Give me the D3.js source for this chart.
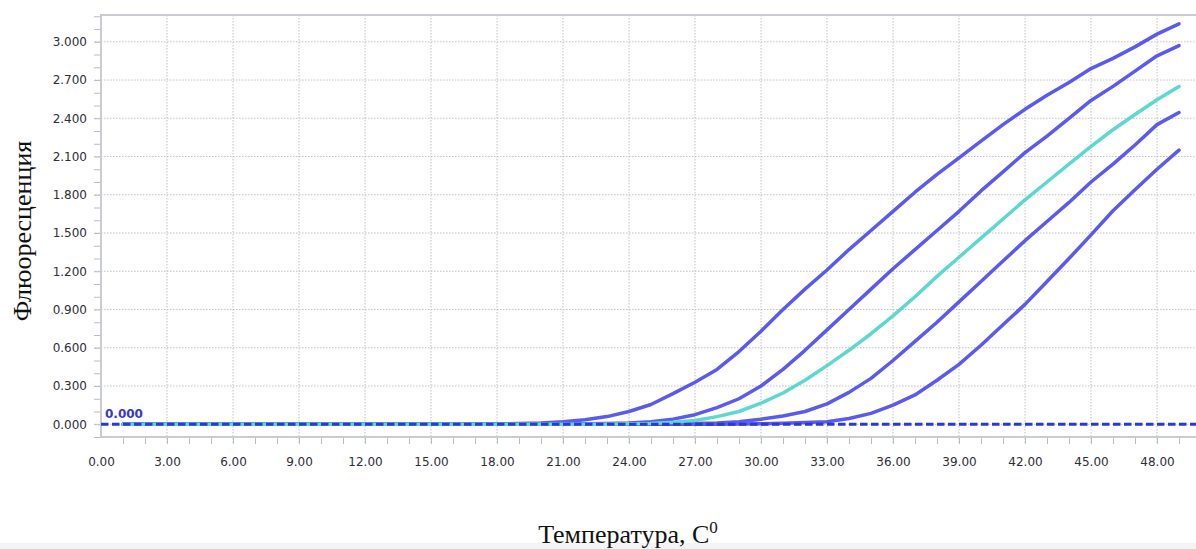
<!DOCTYPE html>
<html>
<head>
<meta charset="utf-8">
<script src="https://cdnjs.cloudflare.com/ajax/libs/d3/7.8.5/d3.min.js"></script>
<style>
    html, body { margin: 0; padding: 0; background: #fff; }
    svg { display: block; }
</style>
</head>
<body>
<div id="chart"></div>
<script>
// cycles / temperature points
var cycles = [1,2,3,4,5,6,7,8,9,10,11,12,13,14,15,16,17,18,19,20,21,22,23,24,25,
    26,27,28,29,30,31,32,33,34,35,36,37,38,39,40,41,42,43,44,45,46,47,48,49];

var curveA = [0,0,0,0,0,0,0,0,0,0,0,0,0,0,0,0,0,0.002,0.005,0.01,0.02,0.035,0.06,0.10,0.155,
    0.24,0.33,0.43,0.57,0.73,0.90,1.06,1.21,1.37,1.52,1.67,1.82,1.96,2.09,2.22,2.35,2.47,2.58,2.68,2.79,2.87,2.96,3.06,3.14];
var curveB = [0,0,0,0,0,0,0,0,0,0,0,0,0,0,0,0,0,0,0,0,0,0.003,0.006,0.01,0.02,
    0.04,0.075,0.13,0.20,0.30,0.43,0.58,0.74,0.90,1.06,1.22,1.37,1.52,1.67,1.83,1.98,2.13,2.26,2.40,2.54,2.65,2.77,2.89,2.97];
var curveC = [0,0,0,0,0,0,0,0,0,0,0,0,0,0,0,0,0,0,0,0,0,0,0,0.003,0.006,
    0.015,0.03,0.06,0.10,0.165,0.245,0.345,0.46,0.58,0.71,0.85,1.00,1.16,1.31,1.46,1.61,1.76,1.90,2.04,2.18,2.31,2.43,2.545,2.65];
var curveD = [0,0,0,0,0,0,0,0,0,0,0,0,0,0,0,0,0,0,0,0,0,0,0,0,0,
    0.003,0.006,0.01,0.02,0.04,0.065,0.10,0.16,0.25,0.36,0.50,0.65,0.80,0.96,1.12,1.28,1.44,1.59,1.74,1.90,2.04,2.19,2.35,2.445];
var curveE = [0,0,0,0,0,0,0,0,0,0,0,0,0,0,0,0,0,0,0,0,0,0,0,0,0,
    0,0,0,0.002,0.004,0.008,0.013,0.02,0.045,0.085,0.15,0.23,0.345,0.47,0.62,0.78,0.94,1.12,1.30,1.485,1.675,1.84,2.00,2.15];

var threshold = 0.000;

var xTicks = [0,3,6,9,12,15,18,21,24,27,30,33,36,39,42,45,48];
var yTicks = [0,0.3,0.6,0.9,1.2,1.5,1.8,2.1,2.4,2.7,3.0];

var width = 1196;
var height = 549;
var plotL = 101, plotR = 1196.6, plotT = 15, plotB = 437;

var svg = d3.select('#chart')
    .append('svg')
    .attr('width', width)
    .attr('height', height);

// grey strip at the very bottom
svg.append('rect')
    .attr('x', 0).attr('y', 543)
    .attr('width', width).attr('height', 6)
    .attr('fill', '#f4f4f4');

var x = d3.scaleLinear().domain([0, 49.8]).range([plotL, plotR]);
var y = d3.scaleLinear().domain([-0.1, 3.21]).range([plotB, plotT]);

// grid
var grid = svg.append('g');
grid.selectAll('.vg')
    .data(xTicks.slice(1))
    .enter()
    .append('line')
    .attr('x1', function(d) {return x(d);})
    .attr('x2', function(d) {return x(d);})
    .attr('y1', plotT).attr('y2', plotB + 6)
    .attr('stroke', '#bfc2c8')
    .attr('stroke-width', 1)
    .attr('stroke-dasharray', '1.5,1.5');
grid.selectAll('.hg')
    .data(yTicks)
    .enter()
    .append('line')
    .attr('x1', plotL - 6).attr('x2', plotR)
    .attr('y1', function(d) {return y(d);})
    .attr('y2', function(d) {return y(d);})
    .attr('stroke', '#bfc2c8')
    .attr('stroke-width', 1)
    .attr('stroke-dasharray', '1.5,1.5');

// frame
svg.append('path')
    .attr('d', 'M' + plotR + ',' + plotT + 'H' + plotL + 'V' + plotB + 'H' + plotR)
    .attr('fill', 'none')
    .attr('stroke', '#c9ccd3')
    .attr('stroke-width', 2);

// axes
var xAxis = d3.axisBottom(x)
    .tickValues(xTicks)
    .tickFormat(d3.format('.2f'))
    .tickSize(0)
    .tickPadding(20);
var gx = svg.append('g')
    .attr('transform', 'translate(0,' + plotB + ')')
    .call(xAxis);
gx.select('.domain').remove();

var xMinor = d3.axisBottom(x)
    .tickValues(d3.range(1, 50))
    .tickFormat('')
    .tickSize(6);
var gxm = svg.append('g')
    .attr('transform', 'translate(0,' + (plotB + 1) + ')')
    .call(xMinor);
gxm.select('.domain').remove();
gxm.selectAll('line').attr('stroke', '#b8bcc4');

var yAxis = d3.axisLeft(y)
    .tickValues(yTicks)
    .tickFormat(d3.format('.3f'))
    .tickSize(0)
    .tickPadding(14);
var gy = svg.append('g')
    .attr('transform', 'translate(' + plotL + ',0)')
    .call(yAxis);
gy.select('.domain').remove();

var yMinor = d3.axisLeft(y)
    .tickValues(d3.range(-1, 33).map(function(d) {return d / 10;}))
    .tickFormat('')
    .tickSize(6);
var gym = svg.append('g')
    .attr('transform', 'translate(' + (plotL - 1) + ',0)')
    .call(yMinor);
gym.select('.domain').remove();
gym.selectAll('line').attr('stroke', '#b8bcc4');

svg.selectAll('.tick text')
    .attr('font-family', 'DejaVu Sans, Verdana, sans-serif')
    .attr('font-size', '12px')
    .attr('fill', '#2e2e38');

// curves
var line = d3.line()
    .x(function(d) {return x(d[0]);})
    .y(function(d) {return y(d[1]);});

var blueCurves = [curveA, curveB, curveD, curveE];
svg.append('g').selectAll('path')
    .data(blueCurves)
    .enter()
    .append('path')
    .attr('d', function(s) {return line(d3.zip(cycles, s));})
    .attr('fill', 'none')
    .attr('stroke', '#5a5af0')
    .attr('stroke-width', 3.5)
    .attr('stroke-linejoin', 'round')
    .attr('stroke-linecap', 'round');

svg.append('path')
    .attr('d', line(d3.zip(cycles, curveC)))
    .attr('fill', 'none')
    .attr('stroke', '#5dd8d0')
    .attr('stroke-width', 3.5)
    .attr('stroke-linejoin', 'round')
    .attr('stroke-linecap', 'round');

// threshold line
svg.append('line')
    .attr('x1', plotL).attr('x2', plotR)
    .attr('y1', y(threshold)).attr('y2', y(threshold))
    .attr('stroke', '#2a38d4')
    .attr('stroke-width', 3)
    .attr('stroke-dasharray', '7.5,3.5');

svg.append('text')
    .attr('x', plotL + 4)
    .attr('y', y(threshold) - 6)
    .attr('font-family', 'DejaVu Sans, Verdana, sans-serif')
    .attr('font-size', '12px')
    .attr('font-weight', 'bold')
    .attr('fill', '#3838c8')
    .text(d3.format('.3f')(threshold));

// axis titles
svg.append('text')
    .attr('transform', 'translate(31,231) rotate(-90)')
    .attr('text-anchor', 'middle')
    .attr('font-family', 'Liberation Serif, Times New Roman, serif')
    .attr('font-size', '26px')
    .attr('fill', '#111')
    .text('Флюоресценция');

svg.append('text')
    .attr('x', 628)
    .attr('y', 543)
    .attr('text-anchor', 'middle')
    .attr('font-family', 'Liberation Serif, Times New Roman, serif')
    .attr('font-size', '26px')
    .attr('fill', '#111')
    .text('Температура, С')
    .append('tspan')
    .attr('dy', -10)
    .attr('font-size', '17px')
    .text('0');
</script>
</body>
</html>
